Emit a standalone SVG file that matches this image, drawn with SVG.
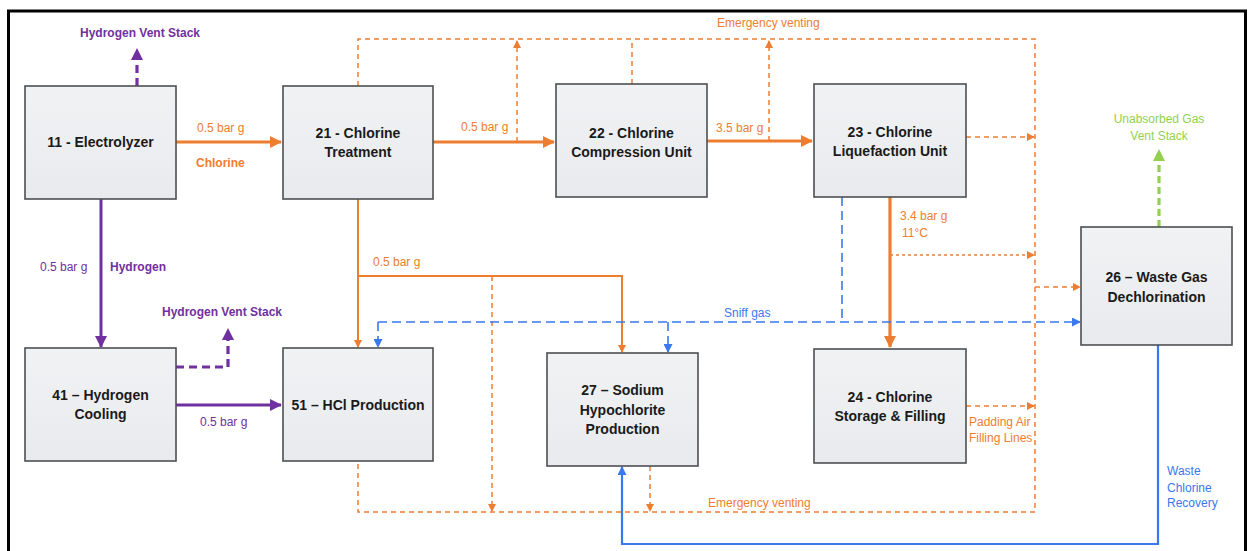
<svg xmlns="http://www.w3.org/2000/svg" width="1249" height="551" viewBox="0 0 1249 551">
  <defs>
    <linearGradient id="boxFill" x1="0" y1="0" x2="0" y2="1">
      <stop offset="0" stop-color="#f1f2f4"/>
      <stop offset="1" stop-color="#e9eaed"/>
    </linearGradient>
    <marker id="aOrangeL" markerUnits="userSpaceOnUse" markerWidth="12" markerHeight="12" refX="11" refY="6" orient="auto">
      <path d="M0,0 L12,6 L0,12 Z" fill="#ed7d31"/>
    </marker>
    <marker id="aOrangeS" markerUnits="userSpaceOnUse" markerWidth="8" markerHeight="8" refX="7" refY="4" orient="auto">
      <path d="M0,0 L8,4 L0,8 Z" fill="#ed7d31"/>
    </marker>
    <marker id="aPurpleL" markerUnits="userSpaceOnUse" markerWidth="12" markerHeight="12" refX="11" refY="6" orient="auto">
      <path d="M0,0 L12,6 L0,12 Z" fill="#7030a0"/>
    </marker>
    <marker id="aBlueS" markerUnits="userSpaceOnUse" markerWidth="9" markerHeight="9" refX="8" refY="4.5" orient="auto">
      <path d="M0,0 L9,4.5 L0,9 Z" fill="#3a78f0"/>
    </marker>
    <marker id="aGreenL" markerUnits="userSpaceOnUse" markerWidth="12" markerHeight="12" refX="11" refY="6" orient="auto">
      <path d="M0,0 L12,6 L0,12 Z" fill="#92d050"/>
    </marker>
  </defs>
  <style>
    .box { fill: url(#boxFill); stroke: #4d4f52; stroke-width: 1.6; }
    .nt { font-family: "Liberation Sans", Arial, sans-serif; font-weight: bold; font-size: 14px; fill: #1a1a1a; text-anchor: middle; }
    .lbl { font-family: "Liberation Sans", Arial, sans-serif; font-size: 12px; }
    .bold { font-weight: bold; }
    .or { fill: #ed7d31; }
    .pu { fill: #7030a0; }
    .bl { fill: #3a78f0; }
    .gr { fill: #92d050; }
    .ln { fill: none; }
    .orThick { stroke: #ed7d31; stroke-width: 3.2; }
    .orThin { stroke: #ed7d31; stroke-width: 2; }
    .orDash { stroke: #ed7d31; stroke-width: 1.5; stroke-dasharray: 5 4; }
    .orDot { stroke: #ed7d31; stroke-width: 1.3; stroke-dasharray: 3 3; }
    .puThick { stroke: #7030a0; stroke-width: 3; }
    .puDash { stroke: #7030a0; stroke-width: 3.2; stroke-dasharray: 8 5; }
    .blDash { stroke: #3a78f0; stroke-width: 1.6; stroke-dasharray: 9 5; }
    .blSolid { stroke: #3a78f0; stroke-width: 2.2; }
    .grDash { stroke: #92d050; stroke-width: 3.2; stroke-dasharray: 7 4; }
  </style>

  <rect width="1249" height="551" fill="#ffffff"/>
  <!-- outer frame -->
  <rect x="8.5" y="11" width="1237" height="570" fill="none" stroke="#000" stroke-width="3"/>

  <g id="connectors" class="ln">
    <!-- emergency venting loop -->
    <path class="ln orDash" d="M358,86 V39 H1035 V512 H358 V461"/>
    <path class="ln orDash" d="M517,142 V41" marker-end="url(#aOrangeS)"/>
    <path class="ln orDash" d="M632,84 V39"/>
    <path class="ln orDash" d="M769,141 V41" marker-end="url(#aOrangeS)"/>
    <path class="ln orDash" d="M966,137 H1034" marker-end="url(#aOrangeS)"/>
    <path class="ln orDot" d="M890,255 H1034" marker-end="url(#aOrangeS)"/>
    <path class="ln orDash" d="M1035,287 H1080" marker-end="url(#aOrangeS)"/>
    <path class="ln orDash" d="M966,406 H1034" marker-end="url(#aOrangeS)"/>
    <path class="ln orDash" d="M492,276 V511" marker-end="url(#aOrangeS)"/>
    <path class="ln orDash" d="M650,466 V511" marker-end="url(#aOrangeS)"/>

    <!-- chlorine main line -->
    <path class="ln orThick" d="M176,142 H281" marker-end="url(#aOrangeL)"/>
    <path class="ln orThick" d="M433,142 H554" marker-end="url(#aOrangeL)"/>
    <path class="ln orThick" d="M707,141 H812" marker-end="url(#aOrangeL)"/>
    <path class="ln orThick" d="M890,197 V347" marker-end="url(#aOrangeL)"/>

    <!-- 0.5 bar g branch to HCl and hypochlorite -->
    <path class="ln orThin" d="M358,199 V347" marker-end="url(#aOrangeS)"/>
    <path class="ln orThin" d="M358,276 H622 V352" marker-end="url(#aOrangeS)"/>

    <!-- sniff gas -->
    <path class="ln blDash" d="M378,322 H1080" marker-end="url(#aBlueS)"/>
    <path class="ln blDash" d="M378,322 V347" marker-end="url(#aBlueS)"/>
    <path class="ln blDash" d="M842,197 V322"/>
    <path class="ln blDash" d="M668,322 V352" marker-end="url(#aBlueS)"/>

    <!-- waste chlorine recovery -->
    <path class="ln blSolid" d="M1158,345 V544 H622 V467" marker-end="url(#aBlueS)"/>

    <!-- unabsorbed gas vent -->
    <path class="ln grDash" d="M1159,227 V150" marker-end="url(#aGreenL)"/>

    <!-- hydrogen -->
    <path class="ln puDash" d="M137,86 V49" marker-end="url(#aPurpleL)"/>
    <path class="ln puThick" d="M101,199 V347" marker-end="url(#aPurpleL)"/>
    <path class="ln puDash" d="M176,367 H228 V329" marker-end="url(#aPurpleL)"/>
    <path class="ln puThick" d="M176,405 H281" marker-end="url(#aPurpleL)"/>
  </g>

  <g id="connector-labels">
    <text class="lbl bold pu" x="140" y="37" text-anchor="middle" font-size="11">Hydrogen Vent Stack</text>
    <text class="lbl or" x="197" y="132">0.5 bar g</text>
    <text class="lbl bold or" x="196" y="167">Chlorine</text>
    <text class="lbl or" x="461" y="131">0.5 bar g</text>
    <text class="lbl or" x="716" y="132">3.5 bar g</text>
    <text class="lbl or" x="717" y="27">Emergency venting</text>
    <text class="lbl or" x="900" y="220">3.4 bar g</text>
    <text class="lbl or" x="902" y="237">11°C</text>
    <text class="lbl or" x="373" y="266">0.5 bar g</text>
    <text class="lbl bl" x="724" y="317">Sniff gas</text>
    <text class="lbl gr" x="1159" y="123" text-anchor="middle">Unabsorbed Gas</text>
    <text class="lbl gr" x="1159" y="140" text-anchor="middle">Vent Stack</text>
    <text class="lbl or" x="969" y="426">Padding Air</text>
    <text class="lbl or" x="969" y="442">Filling Lines</text>
    <text class="lbl bl" x="1167" y="475">Waste</text>
    <text class="lbl bl" x="1167" y="492">Chlorine</text>
    <text class="lbl bl" x="1167" y="507">Recovery</text>
    <text class="lbl or" x="708" y="507">Emergency venting</text>
    <text class="lbl pu" x="40" y="271">0.5 bar g</text>
    <text class="lbl bold pu" x="110" y="271">Hydrogen</text>
    <text class="lbl bold pu" x="222" y="316" text-anchor="middle" font-size="11">Hydrogen Vent Stack</text>
    <text class="lbl pu" x="200" y="426">0.5 bar g</text>
  </g>

  <g id="n11">
    <rect class="box" x="25" y="86" width="151" height="113"/>
    <text class="nt" x="100.5" y="147">11 - Electrolyzer</text>
  </g>
  <g id="n21">
    <rect class="box" x="283" y="86" width="150" height="113"/>
    <text class="nt" x="358" y="138">21 - Chlorine</text>
    <text class="nt" x="358" y="157">Treatment</text>
  </g>
  <g id="n22">
    <rect class="box" x="556" y="84" width="151" height="113"/>
    <text class="nt" x="631.5" y="138">22 - Chlorine</text>
    <text class="nt" x="631.5" y="157">Compression Unit</text>
  </g>
  <g id="n23">
    <rect class="box" x="814" y="84" width="152" height="113"/>
    <text class="nt" x="890" y="137">23 - Chlorine</text>
    <text class="nt" x="890" y="156">Liquefaction Unit</text>
  </g>
  <g id="n41">
    <rect class="box" x="25" y="348" width="151" height="113"/>
    <text class="nt" x="100.5" y="400">41 – Hydrogen</text>
    <text class="nt" x="100.5" y="419">Cooling</text>
  </g>
  <g id="n51">
    <rect class="box" x="283" y="348" width="150" height="113"/>
    <text class="nt" x="358" y="410">51 – HCl Production</text>
  </g>
  <g id="n27">
    <rect class="box" x="547" y="353" width="151" height="113"/>
    <text class="nt" x="622.5" y="395">27 – Sodium</text>
    <text class="nt" x="622.5" y="415">Hypochlorite</text>
    <text class="nt" x="622.5" y="434">Production</text>
  </g>
  <g id="n24">
    <rect class="box" x="814" y="349" width="152" height="114"/>
    <text class="nt" x="890" y="402">24 - Chlorine</text>
    <text class="nt" x="890" y="421">Storage &amp; Filling</text>
  </g>
  <g id="n26">
    <rect class="box" x="1081" y="227" width="151" height="118"/>
    <text class="nt" x="1156.5" y="282">26 – Waste Gas</text>
    <text class="nt" x="1156.5" y="302">Dechlorination</text>
  </g>
</svg>
